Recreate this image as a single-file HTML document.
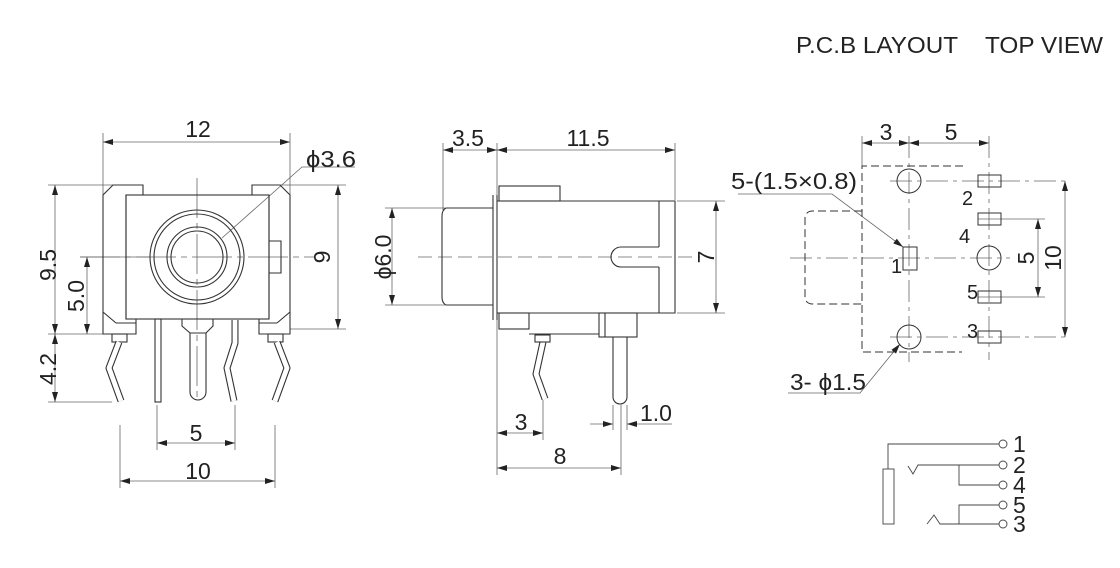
<!DOCTYPE html>
<html><head><meta charset="utf-8"><style>
html,body{margin:0;padding:0;background:#fff}
svg{display:block}
text{font-family:"Liberation Sans",Arial,sans-serif;fill:#222}
</style></head><body>
<svg width="1120" height="568" viewBox="0 0 1120 568" xmlns="http://www.w3.org/2000/svg">
<defs>
<marker id="a" viewBox="0 0 10 6" refX="10" refY="3" markerWidth="10" markerHeight="6" markerUnits="userSpaceOnUse" orient="auto-start-reverse"><path d="M0,0L10,3L0,6z" fill="#222"/></marker>
</defs>
<g stroke="#666" stroke-width="0.8" fill="none">
<line x1="103" y1="133" x2="103" y2="197"/><line x1="290" y1="133" x2="290" y2="197"/>
<line x1="103" y1="142" x2="290" y2="142" marker-start="url(#a)" marker-end="url(#a)"/>
<line x1="48" y1="185" x2="120" y2="185"/><line x1="48" y1="334" x2="110" y2="334"/><line x1="48" y1="402" x2="112" y2="402"/>
<line x1="55" y1="185" x2="55" y2="334" marker-start="url(#a)" marker-end="url(#a)"/>
<line x1="55" y1="334" x2="55" y2="402" marker-start="url(#a)" marker-end="url(#a)"/>
<line x1="80" y1="257" x2="150" y2="257"/>
<line x1="87" y1="257" x2="87" y2="334" marker-start="url(#a)" marker-end="url(#a)"/>
<line x1="280" y1="185" x2="346" y2="185"/><line x1="290" y1="329" x2="346" y2="329"/>
<line x1="338" y1="185" x2="338" y2="329" marker-start="url(#a)" marker-end="url(#a)"/>
<line x1="157" y1="405" x2="157" y2="450"/><line x1="235" y1="405" x2="235" y2="450"/>
<line x1="157" y1="443" x2="235" y2="443" marker-start="url(#a)" marker-end="url(#a)"/>
<line x1="120" y1="425" x2="120" y2="488"/><line x1="275" y1="425" x2="275" y2="488"/>
<line x1="120" y1="481" x2="275" y2="481" marker-start="url(#a)" marker-end="url(#a)"/>
<line x1="80" y1="257" x2="315" y2="257" stroke-dasharray="40 5 6 5"/>
<line x1="197" y1="178" x2="197" y2="400" stroke-dasharray="40 5 6 5"/>
<polyline points="222,238 302,167 355,167"/>
<line x1="443" y1="143" x2="443" y2="210"/><line x1="497" y1="143" x2="497" y2="475"/><line x1="675" y1="143" x2="675" y2="200"/>
<line x1="443" y1="150" x2="497" y2="150" marker-start="url(#a)" marker-end="url(#a)"/>
<line x1="497" y1="150" x2="675" y2="150" marker-start="url(#a)" marker-end="url(#a)"/>
<line x1="385" y1="208" x2="445" y2="208"/><line x1="385" y1="305" x2="445" y2="305"/>
<line x1="392" y1="208" x2="392" y2="305" marker-start="url(#a)" marker-end="url(#a)"/>
<line x1="677" y1="201" x2="725" y2="201"/><line x1="677" y1="313" x2="725" y2="313"/>
<line x1="716" y1="201" x2="716" y2="313" marker-start="url(#a)" marker-end="url(#a)"/>
<line x1="418" y1="257" x2="700" y2="257" stroke-dasharray="14 6"/>
<line x1="543" y1="400" x2="543" y2="440"/>
<line x1="497" y1="433" x2="543" y2="433" marker-start="url(#a)" marker-end="url(#a)"/>
<line x1="613" y1="405" x2="613" y2="430"/><line x1="621" y1="405" x2="621" y2="475"/><line x1="627" y1="405" x2="627" y2="430"/>
<line x1="590" y1="424" x2="613" y2="424" marker-end="url(#a)"/>
<line x1="672" y1="424" x2="627" y2="424" marker-end="url(#a)"/>
<line x1="497" y1="468" x2="621" y2="468" marker-start="url(#a)" marker-end="url(#a)"/>
<line x1="862" y1="136" x2="862" y2="166"/><line x1="989" y1="136" x2="989" y2="360" stroke-dasharray="22 5 4 5"/>
<line x1="909" y1="136" x2="909" y2="362" stroke-dasharray="22 5 4 5"/>
<line x1="862" y1="143" x2="909" y2="143" marker-start="url(#a)" marker-end="url(#a)"/>
<line x1="909" y1="143" x2="989" y2="143" marker-start="url(#a)" marker-end="url(#a)"/>
<line x1="890" y1="181" x2="1070" y2="181" stroke-dasharray="22 5 4 5"/>
<line x1="890" y1="337" x2="1070" y2="337" stroke-dasharray="22 5 4 5"/>
<line x1="790" y1="258" x2="1010" y2="258" stroke-dasharray="22 5 4 5"/>
<line x1="978" y1="219" x2="1045" y2="219"/><line x1="978" y1="297" x2="1045" y2="297"/>
<line x1="1038" y1="219" x2="1038" y2="297" marker-start="url(#a)" marker-end="url(#a)"/>
<line x1="1065" y1="181" x2="1065" y2="337" marker-start="url(#a)" marker-end="url(#a)"/>
<polyline points="738,194 832,194 903,247" marker-end="url(#a)"/>
<polyline points="788,393 860,393 900,344" marker-end="url(#a)"/>
</g>
<g stroke="#333" stroke-width="1.1" fill="none">
<path d="M113,185 L143,185 L143,195 L126,195 L126,319 L136,319 L136,334 L103,334 L103,195 Z"/>
<path d="M280,185 L252,185 L252,195 L269,195 L269,319 L259,319 L259,334 L290,334 L290,195 Z"/>
<rect x="126" y="195" width="143" height="124"/>
<path d="M269,241 L281,241 L281,273 L269,273"/>
<line x1="103" y1="312" x2="116" y2="323"/><line x1="290" y1="312" x2="277" y2="323"/>
<line x1="116" y1="323" x2="136" y2="323"/><line x1="259" y1="323" x2="277" y2="323"/>
<circle cx="197" cy="257" r="47"/><circle cx="197" cy="257" r="43"/>
<circle cx="197" cy="257" r="30"/><circle cx="197" cy="257" r="26"/>
<rect x="112" y="334" width="15" height="8"/><rect x="268" y="334" width="15" height="8"/>
<path d="M182,319 L213,319 L213,326 L206,333 L190,333 L182,326 Z"/>
<path d="M190,333 L190,392 A8,8 0 0 0 206,392 L206,333"/>
<rect x="155" y="319" width="6" height="83"/>
</g>
<g fill="none" stroke-linejoin="round">
<polyline points="119,342 109,368 121,401" stroke="#333" stroke-width="7"/>
<polyline points="119,342 109,368 121,401" stroke="#fff" stroke-width="4.8"/>
<polyline points="277,342 287,368 275,401" stroke="#333" stroke-width="7"/>
<polyline points="277,342 287,368 275,401" stroke="#fff" stroke-width="4.8"/>
<polyline points="235,320 235,343 227,368 234,401" stroke="#333" stroke-width="7"/>
<polyline points="235,320 235,343 227,368 234,401" stroke="#fff" stroke-width="4.8"/>
<polyline points="543,342 536,374 545,399" stroke="#333" stroke-width="7"/>
<polyline points="543,342 536,374 545,399" stroke="#fff" stroke-width="4.8"/>
</g>
<g stroke="#333" stroke-width="1.1" fill="none">
<rect x="499" y="186" width="61" height="15"/>
<path d="M497,201 L675,201 L675,313 L497,313"/>
<line x1="659" y1="201" x2="659" y2="247"/><line x1="659" y1="267" x2="659" y2="313"/>
<path d="M659,247 L621,247 A10,10 0 0 0 621,267 L659,267"/>
<line x1="493" y1="195" x2="493" y2="320"/><line x1="497" y1="195" x2="497" y2="320"/>
<path d="M493,208 L446,208 Q442,210 442,216 L442,297 Q442,303 446,305 L493,305"/>
<rect x="499" y="313" width="30" height="16"/>
<line x1="529" y1="334" x2="599" y2="334"/>
<rect x="599" y="313" width="38" height="24"/><line x1="605" y1="313" x2="605" y2="337"/>
<rect x="535" y="335" width="15" height="7"/>
<path d="M613,337 L613,397 A7,7 0 0 0 627,397 L627,337"/>
</g>
<g stroke="#333" stroke-width="1" fill="none">
<path d="M963,166 L862,166 L862,352 L962,352" stroke-dasharray="8 4"/>
<path d="M862,211 L813,211 Q805,211 805,219 L805,296 Q805,304 813,304 L862,304" stroke-dasharray="8 4"/>
<circle cx="909" cy="181" r="12"/><circle cx="909" cy="337" r="12"/><circle cx="989" cy="258" r="12"/>
<rect x="903" y="247" width="14" height="23"/>
<rect x="978" y="175" width="23" height="12"/><rect x="978" y="213" width="23" height="12"/>
<rect x="978" y="291" width="23" height="12"/><rect x="978" y="331" width="23" height="12"/>
</g>
<g stroke="#444" stroke-width="0.9" fill="none">
<circle cx="1003" cy="444" r="4"/><circle cx="1003" cy="465" r="4"/><circle cx="1003" cy="485" r="4"/><circle cx="1003" cy="505" r="4"/><circle cx="1003" cy="524" r="4"/>
<polyline points="999,444 888,444 888,469"/>
<rect x="883" y="469" width="11" height="55"/>
<polyline points="999,465 918,465 913,474 908,466"/>
<polyline points="959,465 959,485 999,485"/>
<polyline points="999,505 959,505 959,524"/>
<polyline points="999,524 940,524 934,515 927,524"/>
</g>
<g font-size="23">
<text x="198" y="137" text-anchor="middle">12</text>
<text x="306" y="167" textLength="50" lengthAdjust="spacingAndGlyphs">ϕ3.6</text>
<text transform="translate(56,265) rotate(-90)" text-anchor="middle">9.5</text>
<text transform="translate(84,296) rotate(-90)" text-anchor="middle">5.0</text>
<text transform="translate(56,369) rotate(-90)" text-anchor="middle">4.2</text>
<text transform="translate(330,257) rotate(-90)" text-anchor="middle">9</text>
<text x="196" y="441" text-anchor="middle">5</text>
<text x="198" y="479" text-anchor="middle">10</text>
<text x="468" y="146" text-anchor="middle">3.5</text>
<text x="588" y="146" text-anchor="middle">11.5</text>
<text transform="translate(391,257) rotate(-90)" text-anchor="middle">ϕ6.0</text>
<text transform="translate(714,257) rotate(-90)" text-anchor="middle">7</text>
<text x="521" y="430" text-anchor="middle">3</text>
<text x="560" y="464" text-anchor="middle">8</text>
<text x="656" y="421" text-anchor="middle">1.0</text>
<text x="886" y="140" text-anchor="middle">3</text>
<text x="951" y="140" text-anchor="middle">5</text>
<text x="731" y="189" textLength="126" lengthAdjust="spacingAndGlyphs">5-(1.5×0.8)</text>
<text x="790" y="390" textLength="76" lengthAdjust="spacingAndGlyphs">3- ϕ1.5</text>
<text transform="translate(1034,258) rotate(-90)" text-anchor="middle">5</text>
<text transform="translate(1061,258) rotate(-90)" text-anchor="middle">10</text>
<text x="1013" y="452">1</text><text x="1013" y="473">2</text><text x="1013" y="493">4</text><text x="1013" y="513">5</text><text x="1013" y="532">3</text>
<text x="796" y="53" textLength="162" lengthAdjust="spacingAndGlyphs">P.C.B LAYOUT</text>
<text x="985" y="53" textLength="118" lengthAdjust="spacingAndGlyphs">TOP VIEW</text>
</g>
<g font-size="20">
<text x="962" y="205">2</text><text x="959" y="243">4</text><text x="891" y="273">1</text><text x="967" y="299">5</text><text x="967" y="338">3</text>
</g>
</svg>
</body></html>
